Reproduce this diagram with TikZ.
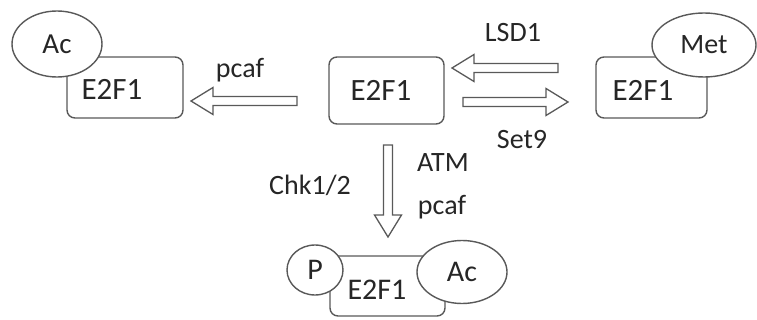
\documentclass[tikz,border=0pt]{standalone}
\usepackage{fontspec}
\setmainfont{Carlito}
\usetikzlibrary{shapes.geometric}
\definecolor{edge}{HTML}{595959}
\definecolor{ink}{HTML}{262626}
\tikzset{
  box/.style={draw=edge, line width=1.4pt, rounded corners=8pt, fill=white},
  blob/.style={draw=edge, line width=1.4pt, ellipse, fill=white, inner sep=0pt},
  big/.style={text=ink, font=\fontsize{31}{31}\selectfont, inner sep=0pt},
  lbl/.style={text=ink, font=\fontsize{28}{28}\selectfont, inner sep=0pt},
  arrowline/.style={draw=edge, line width=1.3pt, fill=white, line join=miter},
  pics/barrow/.style={code={
    \draw[arrowline] (0,4.5) -- ({#1-22},4.5) -- ({#1-22},13.5) -- (#1,0)
      -- ({#1-22},-13.5) -- ({#1-22},-4.5) -- (0,-4.5) -- cycle;}}
}
\begin{document}
\begin{tikzpicture}[x=1pt,y=-1pt]
\useasboundingbox (0,0) rectangle (757,320);
% left: acetylated E2F1
\node[box, minimum width=116pt, minimum height=61pt] (lbox) at (125,87.5) {};
\node[blob, minimum width=90pt, minimum height=66pt] (lac) at (57,44) {};
\node[big] (lt) at (112,89) {E2F1};
\node[big, font=\fontsize{29}{29}\selectfont] at (lac.center) (lact) {Ac};
% center
\node[box, minimum width=115pt, minimum height=67pt] (cbox) at (386.5,90.5) {};
\node[big] (ct) at (381,90) {E2F1};
% right: methylated
\node[box, minimum width=111pt, minimum height=61pt] (rbox) at (651.5,87.5) {};
\node[blob, minimum width=104pt, minimum height=64pt] (rmet) at (704,45) {};
\node[big] (rt) at (643,90) {E2F1};
\node[big, font=\fontsize{28}{28}\selectfont] (rmett) at (rmet.center) {Met};
% bottom
\node[box, minimum width=115pt, minimum height=60pt] (bbox) at (387.5,286) {};
\node[blob, minimum width=56pt, minimum height=50pt] (bp) at (315,270) {};
\node[blob, minimum width=90pt, minimum height=63pt] (bac) at (462,272) {};
\node[big, font=\fontsize{30}{30}\selectfont] (bt) at (377,290) {E2F1};
\node[big, font=\fontsize{30}{30}\selectfont] (bpt) at (bp.center) {P};
\node[big, font=\fontsize{30}{30}\selectfont] (bact) at (bac.center) {Ac};
% arrow end points
\coordinate (a1s) at (297,101); \coordinate (a1e) at (191,101);
\coordinate (a2s) at (558,68);  \coordinate (a2e) at (452,68);
\coordinate (a3s) at (463,102); \coordinate (a3e) at (568,102);
\coordinate (a4s) at (388,145); \coordinate (a4e) at (388,237);
\pic[rotate=180] at (a1s) {barrow=106};
\pic[rotate=180] at (a2s) {barrow=106};
\pic at (a3s) {barrow=105};
\pic[rotate=-90] at (a4s) {barrow=92};
% labels
\node[lbl] (l1) at (240,70) {pcaf};
\node[lbl] (l2) at (513,33) {LSD1};
\node[lbl] (l3) at (522,140) {Set9};
\node[lbl] (l4) at (443,163) {ATM};
\node[lbl] (l5) at (442,207) {pcaf};
\node[lbl] (l6) at (310,185) {Chk1/2};
\end{tikzpicture}
\end{document}
